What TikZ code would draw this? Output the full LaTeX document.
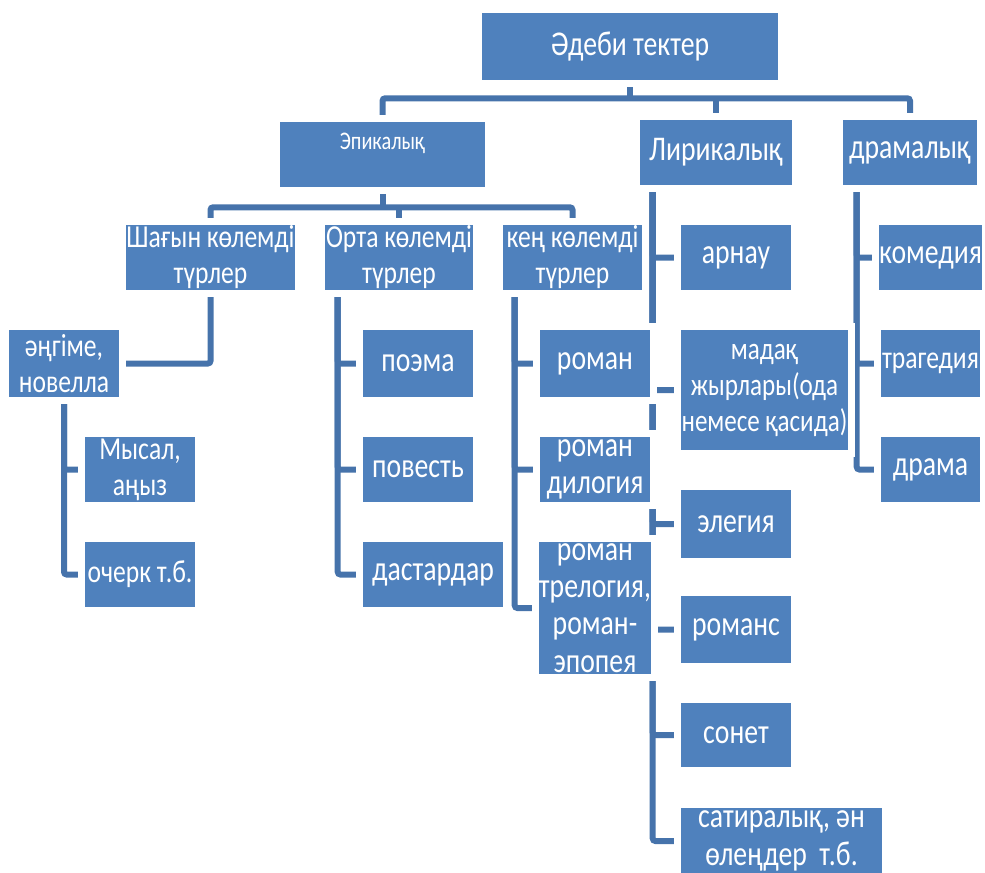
\documentclass[tikz,border=0pt]{standalone}
\usepackage{fontspec}
\setmainfont{Carlito}[FakeStretch=0.8]
\usetikzlibrary{calc,backgrounds}

\definecolor{boxblue}{HTML}{4F81BD}
\definecolor{lineblue}{HTML}{4673AB}

\tikzset{
  box/.style={rectangle, fill=boxblue, text=white, align=center, inner sep=0pt,
    preaction={draw=white, line width=10pt}, font=\fontsize{24}{27}\selectfont},
  sz/.style args={#1/#2}{minimum width=#1*0.75pt, minimum height=#2*0.75pt},
  big/.style={font=\fontsize{26}{28}\selectfont},
  conn/.style={draw=lineblue, line width=4.5pt, rounded corners=2pt},
}

\begin{document}
\begin{tikzpicture}[x=0.75pt, y=-0.75pt]
    \useasboundingbox (0,0) rectangle (985,872);
    \clip (0,0) rectangle (985,872);

    % Tektер
    \node[box, big, sz=296/67] (top) at (630,46.5) {Әдеби тектер};
    \node[box, sz=205/65, font=\fontsize{19}{22}\selectfont] (epic) at (382.5,154.5)
        {\raisebox{8pt}[\height][\depth]{Эпикалық}};
    \node[box, big, sz=152/65] (lyric) at (716,152.5) {Лирикалық};
    \node[box, big, sz=134/65] (drama) at (910,152.5) {драмалық};

    % Epikalyq turleri
    \node[box, sz=167/65] (small) at (210.5,257.5) {Шағын көлемді\\түрлер};
    \node[box, sz=148/65] (mid) at (399,257.5) {Орта көлемді\\түрлер};
    \node[box, sz=139/65] (large) at (572.5,257.5) {кең көлемді\\түрлер};

    \node[box, sz=110/67] (story) at (64,363.5) {әңгіме,\\новелла};
    \node[box, sz=110/65] (fable) at (140,469.5) {Мысал,\\аңыз};
    \node[box, sz=110/65] (essay) at (140,574.5) {очерк т.б.};

    \node[box, big, sz=110/67] (poem) at (418,363.5) {поэма};
    \node[box, big, sz=110/65] (tale) at (418,469.5) {повесть};
    \node[box, big, sz=140/65] (epos) at (433,574.5) {дастардар};

    \node[box, big, sz=110/67] (novel) at (595,363.5) {роман};
    \node[box, big, sz=110/65] (dilogy) at (595,469.5) {роман\\дилогия};
    \node[box, big, sz=110/132] (trilogy) at (595,608) {роман\\трелогия,\\роман-\\эпопея};

    % Lirikalyq
    \node[box, big, sz=110/65] (dedic) at (736,257.5) {арнау};
    \node[box, sz=167/120, font=\fontsize{23.5}{27}\selectfont] (ode) at (764.5,390)
        {мадақ\\жырлары(ода\\немесе қасида)};
    \node[box, big, sz=110/68] (elegy) at (736,524) {элегия};
    \node[box, big, sz=110/67] (romance) at (736,629.5) {романс};
    \node[box, big, sz=110/64] (sonnet) at (736,735) {сонет};
    \node[box, big, sz=201/66] (satire) at (781.5,841) {сатиралық, ән\\өлеңдер \ т.б.};

    % Dramalyq
    \node[box, big, sz=99/65] (comedy) at (930.5,257.5) {комедия};
    \node[box, sz=99/67] (tragedy) at (930.5,363.5) {трагедия};
    \node[box, big, sz=99/65] (dramabox) at (930.5,469.5) {драма};

    \begin{pgfonlayer}{background}
        % Bailanystar
        \draw[conn] (top.south) -- ++(0,18) coordinate (h0);
        \draw[conn] (epic.north) |- (h0) -| (drama.north);
        \draw[conn] (lyric.north) -- (lyric.north |- h0);

        \draw[conn] (epic.south) -- ++(0,20) coordinate (h1);
        \draw[conn] (small.north) |- (h1) -| (large.north);
        \draw[conn] (mid.north) -- (mid.north |- h1);

        \draw[conn] (small.south) |- (story.east);
        \foreach \n in {fable,essay}
            \draw[conn] (story.south) |- (\n.west);

        \coordinate (m0) at ($(mid.south west)+(13,0)$);
        \foreach \n in {poem,tale,epos}
            \draw[conn] (m0) |- (\n.west);

        \coordinate (k0) at ($(large.south west)+(12,0)$);
        \foreach \n in {novel,dilogy,trilogy}
            \draw[conn] (k0) |- (\n.west);

        \coordinate (l0) at ($(lyric.south west)+(13,0)$);
        \foreach \n in {dedic,ode,elegy,romance,sonnet,satire}
            \draw[conn] (l0) |- (\n.west);

        \coordinate (d0) at ($(drama.south west)+(14,0)$);
        \foreach \n in {comedy,tragedy,dramabox}
            \draw[conn] (d0) |- (\n.west);
    \end{pgfonlayer}
\end{tikzpicture}
\end{document}
